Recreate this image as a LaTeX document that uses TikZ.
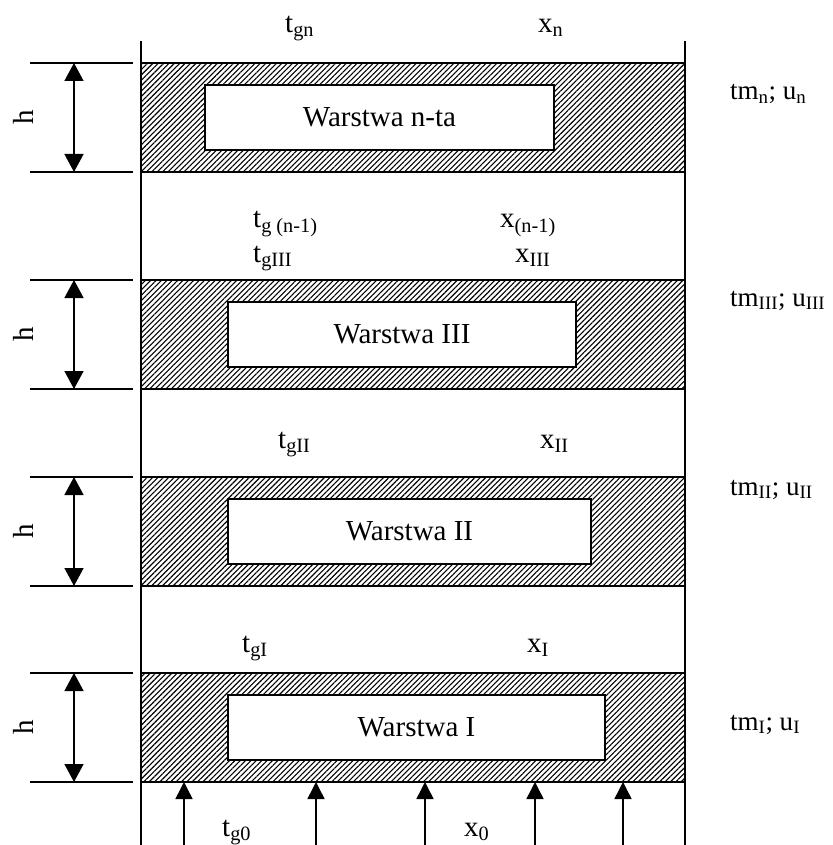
\documentclass[tikz,border=0pt]{standalone}
\usepackage{fontspec}
\setmainfont{Liberation Serif}
\usetikzlibrary{patterns.meta, arrows.meta}

\tikzset{
    wall/.style={line width=1.8pt},
    layer/.style={draw, line width=1.8pt, pattern={Lines[angle=45, distance=3.8pt, line width=1.1pt]}},
    core/.style={draw, fill=white, line width=1.8pt, inner sep=0pt, font=\fontsize{29}{33}\selectfont},
    lbl/.style={font=\fontsize{29}{33}\selectfont, inner sep=0pt},
    state/.style={font=\fontsize{27}{31}\selectfont, inner sep=0pt, anchor=base west},
    tick/.style={line width=1.8pt},
    dim/.style={line width=1.5pt, {Triangle[width=19pt, length=18pt]}-{Triangle[width=19pt, length=18pt]}},
    flow/.style={line width=1.5pt, -{Triangle[width=17pt, length=17pt]}},
}

\begin{document}
\begin{tikzpicture}[x=1pt, y=-1pt]
    \useasboundingbox (0,0) rectangle (832,845);

    % side walls
    \draw[wall] (141,41) coordinate (wl) -- (141,845);
    \draw[wall] (685,41) coordinate (wr) -- (685,845);

    % layers with their thickness h
    \foreach \t/\l/\r/\txt [count=\i] in {63/205/554/Warstwa n-ta, 280/228/576/Warstwa III, 477/228/591/Warstwa II, 673/228/605/Warstwa I} {
        \draw[layer] (141,\t) rectangle (685,\t+109);
        \node[core, minimum width={(\r-\l)*1pt}, minimum height=65pt] (core\i) at ({(\l+\r)/2},\t+54.5) {\txt};
        \draw[tick] (30,\t) -- (133,\t);
        \draw[tick] (30,\t+109) -- (133,\t+109);
        \coordinate (htop\i) at (74,\t);
        \coordinate (hbot\i) at (74,\t+109);
        \draw[dim] (htop\i) -- (hbot\i);
        \node[lbl, rotate=90] (h\i) at (23,\t+54.5) {h};
    }

    % gas and moisture between layers
    \node[lbl, anchor=base west] (tgn) at (285,33) {t\textsubscript{gn}};
    \node[lbl, anchor=base west] (xn) at (538,33) {x\textsubscript{n}};
    \node[lbl, anchor=base west] (tgn1) at (253,227) {t\textsubscript{g (n-1)}};
    \node[lbl, anchor=base west] (xn1) at (500,227) {x\textsubscript{(n-1)}};
    \node[lbl, anchor=base west] (tgIII) at (253,262) {t\textsubscript{gIII}};
    \node[lbl, anchor=base west] (xIII) at (515,262) {x\textsubscript{III}};
    \node[lbl, anchor=base west] (tgII) at (278,448) {t\textsubscript{gII}};
    \node[lbl, anchor=base west] (xII) at (540,448) {x\textsubscript{II}};
    \node[lbl, anchor=base west] (tgI) at (242,652) {t\textsubscript{gI}};
    \node[lbl, anchor=base west] (xI) at (527,652) {x\textsubscript{I}};
    \node[lbl, anchor=base west] (tg0) at (222,836) {t\textsubscript{g0}};
    \node[lbl, anchor=base west] (x0) at (464,836) {x\textsubscript{0}};

    % material state of each layer
    \node[state] (tmn) at (730,100) {tm\textsubscript{n}; u\textsubscript{n}};
    \node[state] (tmIII) at (730,306) {tm\textsubscript{III}; u\textsubscript{III}};
    \node[state] (tmII) at (730,495) {tm\textsubscript{II}; u\textsubscript{II}};
    \node[state] (tmI) at (730,730) {tm\textsubscript{I}; u\textsubscript{I}};

    % inflow at the bottom
    \coordinate (base) at (141,782);
    \foreach \a in {184,316,425,535,623} {
        \coordinate (in\a) at (\a,845);
        \draw[flow] (in\a) -- (in\a |- base);
    }
\end{tikzpicture}
\end{document}
